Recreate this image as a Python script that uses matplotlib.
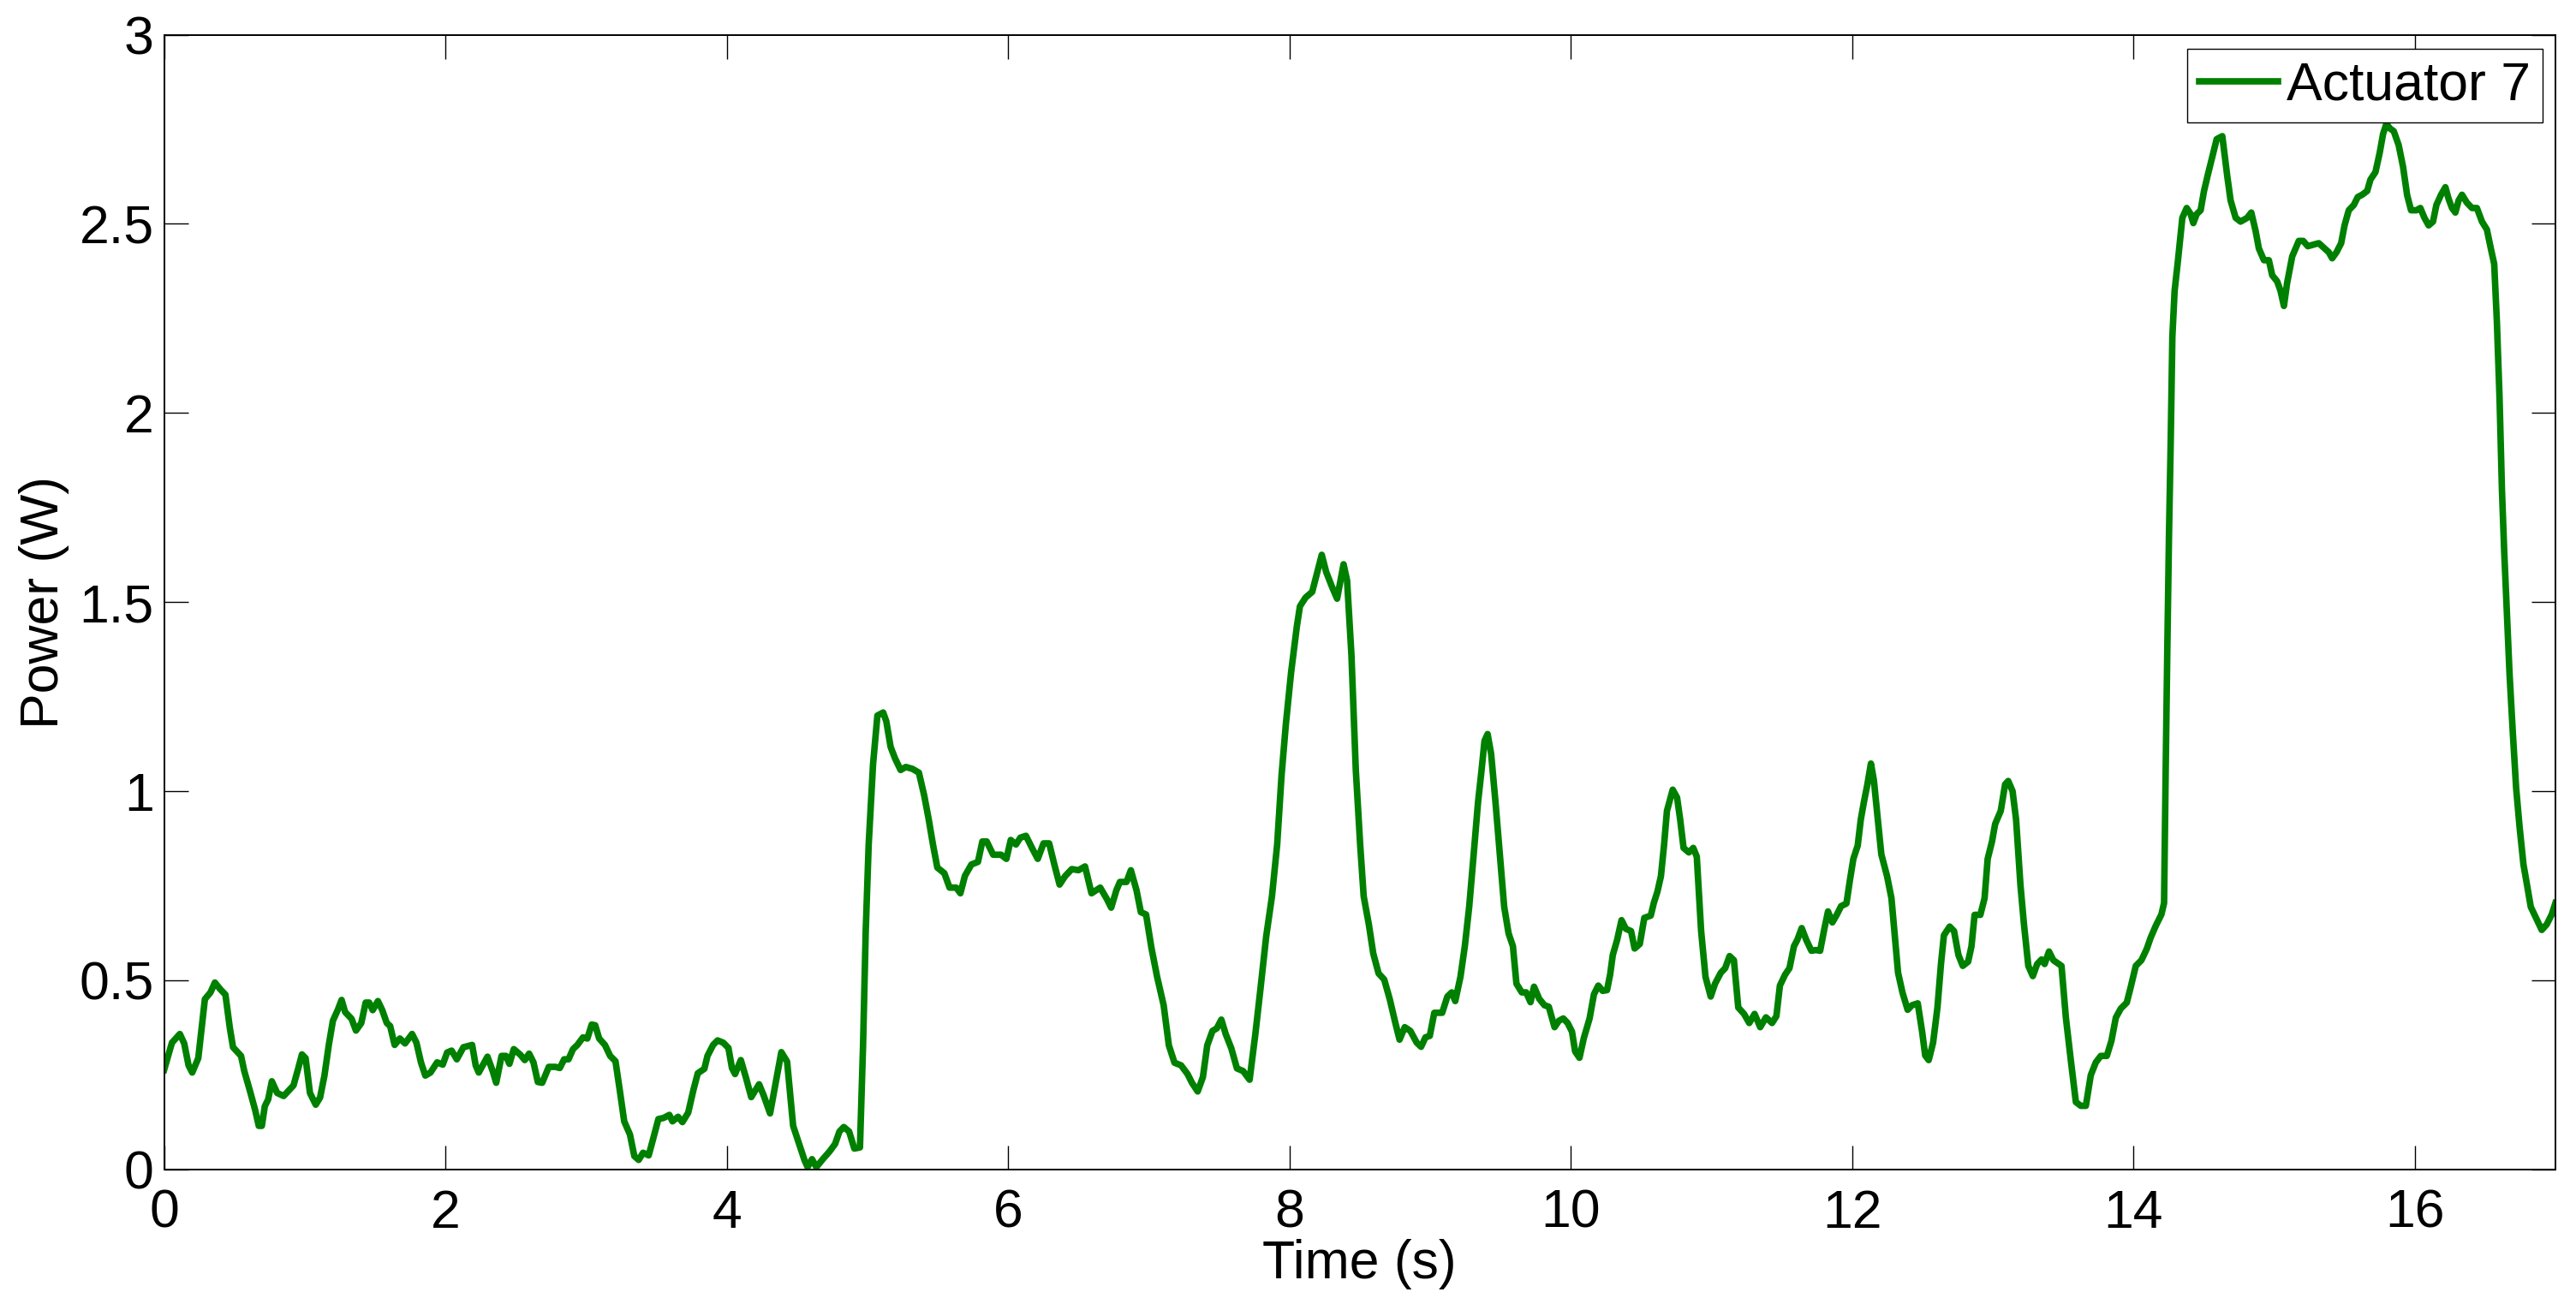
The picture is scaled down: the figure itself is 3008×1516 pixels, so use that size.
import numpy as np
import matplotlib
matplotlib.use("Agg")
import matplotlib.pyplot as plt
from matplotlib.ticker import FormatStrFormatter, MultipleLocator

# power trace of actuator 7
t = [0, 0.056, 0.112, 0.143, 0.174, 0.2, 0.243, 0.29, 0.33, 0.361, 0.4, 0.436, 0.467, 0.49,
     0.547, 0.57, 0.61, 0.648, 0.673, 0.695, 0.716, 0.74, 0.766, 0.804, 0.85, 0.89, 0.92,
     0.953, 0.98, 1.006, 1.037, 1.078, 1.109, 1.14, 1.171, 1.2, 1.234, 1.262, 1.287, 1.333,
     1.364, 1.402, 1.433, 1.458, 1.483, 1.52, 1.551, 1.583, 1.607, 1.639, 1.676, 1.713,
     1.763, 1.794, 1.826, 1.857, 1.894, 1.941, 1.981, 2.012, 2.044, 2.081, 2.128, 2.19,
     2.215, 2.237, 2.299, 2.336, 2.361, 2.399, 2.43, 2.455, 2.486, 2.533, 2.564, 2.595,
     2.626, 2.657, 2.688, 2.735, 2.782, 2.813, 2.844, 2.875, 2.907, 2.938, 2.978, 3.009,
     3.04, 3.065, 3.093, 3.134, 3.171, 3.209, 3.24, 3.271, 3.312, 3.343, 3.374, 3.405,
     3.445, 3.477, 3.514, 3.551, 3.592, 3.614, 3.654, 3.685, 3.726, 3.763, 3.794, 3.841,
     3.863, 3.903, 3.935, 3.975, 4.012, 4.037, 4.059, 4.1, 4.137, 4.174, 4.23, 4.262, 4.308,
     4.348, 4.388, 4.429, 4.472, 4.512, 4.553, 4.575, 4.606, 4.637, 4.683, 4.73, 4.77, 4.801,
     4.832, 4.87, 4.907, 4.947, 4.969, 4.988, 5.009, 5.04, 5.071, 5.112, 5.134, 5.165, 5.196,
     5.236, 5.273, 5.32, 5.366, 5.404, 5.435, 5.466, 5.497, 5.547, 5.584, 5.631, 5.661,
     5.693, 5.739, 5.786, 5.817, 5.848, 5.894, 5.95, 5.988, 6.019, 6.056, 6.087, 6.127,
     6.174, 6.211, 6.252, 6.292, 6.329, 6.366, 6.407, 6.453, 6.5, 6.547, 6.593, 6.655,
     6.702, 6.733, 6.77, 6.795, 6.842, 6.873, 6.913, 6.944, 6.981, 7.019, 7.059, 7.106,
     7.143, 7.183, 7.23, 7.276, 7.307, 7.348, 7.385, 7.416, 7.453, 7.484, 7.516, 7.547,
     7.587, 7.627, 7.671, 7.717, 7.758, 7.795, 7.835, 7.876, 7.913, 7.944, 7.975, 8.012,
     8.053, 8.075, 8.115, 8.162, 8.193, 8.23, 8.261, 8.301, 8.339, 8.385, 8.41, 8.441,
     8.472, 8.503, 8.528, 8.565, 8.596, 8.634, 8.674, 8.714, 8.752, 8.783, 8.82, 8.86,
     8.905, 8.936, 8.967, 8.998, 9.03, 9.086, 9.123, 9.154, 9.179, 9.216, 9.247, 9.278,
     9.31, 9.341, 9.365, 9.387, 9.409, 9.434, 9.465, 9.496, 9.527, 9.558, 9.589, 9.614,
     9.652, 9.683, 9.714, 9.739, 9.776, 9.813, 9.844, 9.885, 9.916, 9.947, 9.978, 10.009,
     10.031, 10.062, 10.093, 10.134, 10.165, 10.196, 10.227, 10.258, 10.28, 10.299, 10.33,
     10.361, 10.392, 10.429, 10.454, 10.491, 10.523, 10.569, 10.591, 10.616, 10.641, 10.663,
     10.684, 10.725, 10.756, 10.778, 10.802, 10.84, 10.871, 10.896, 10.927, 10.958, 10.995,
     11.026, 11.067, 11.098, 11.129, 11.16, 11.191, 11.232, 11.269, 11.307, 11.347, 11.388,
     11.431, 11.462, 11.487, 11.524, 11.555, 11.587, 11.611, 11.642, 11.674, 11.711, 11.742,
     11.773, 11.804, 11.829, 11.86, 11.891, 11.922, 11.96, 11.984, 12.009, 12.04, 12.062,
     12.084, 12.109, 12.134, 12.155, 12.177, 12.208, 12.249, 12.28, 12.302, 12.327, 12.358,
     12.395, 12.426, 12.467, 12.498, 12.52, 12.545, 12.576, 12.607, 12.632, 12.653, 12.694,
     12.725, 12.756, 12.787, 12.825, 12.849, 12.871, 12.912, 12.942, 12.964, 12.995, 13.017,
     13.057, 13.088, 13.11, 13.141, 13.166, 13.197, 13.222, 13.253, 13.285, 13.316, 13.347,
     13.369, 13.4, 13.431,
     13.489, 13.52, 13.555, 13.591, 13.626, 13.662, 13.697, 13.733, 13.768, 13.811, 13.844,
     13.875, 13.91, 13.953, 13.981, 14.017, 14.057, 14.095, 14.123, 14.159, 14.199, 14.218,
     14.23, 14.241, 14.253, 14.265, 14.277, 14.293, 14.317, 14.348, 14.379, 14.407, 14.426,
     14.45, 14.478, 14.502, 14.53, 14.561, 14.592, 14.632, 14.667, 14.691, 14.727, 14.762,
     14.809, 14.838, 14.869, 14.892, 14.928, 14.963, 14.987, 15.022, 15.046, 15.07, 15.093,
     15.129, 15.176, 15.207, 15.24, 15.278, 15.318, 15.359, 15.389, 15.413, 15.444, 15.477,
     15.501, 15.531, 15.567, 15.595, 15.626, 15.662, 15.685, 15.721, 15.751, 15.775, 15.799,
     15.822, 15.851, 15.886, 15.917, 15.946, 15.974, 16.012, 16.04, 16.069, 16.099, 16.13,
     16.154, 16.187, 16.218, 16.241, 16.265, 16.289, 16.312, 16.336, 16.371, 16.407, 16.442,
     16.478, 16.513, 16.541, 16.565, 16.584, 16.603, 16.62, 16.636, 16.655, 16.674, 16.698,
     16.721, 16.745, 16.773, 16.797, 16.825, 16.863, 16.903, 16.939, 16.974, 17.0]

power = [0.263, 0.335, 0.358, 0.333, 0.275, 0.256, 0.294, 0.45, 0.468, 0.494, 0.476, 0.462,
         0.375, 0.323, 0.3, 0.26, 0.208, 0.156, 0.115, 0.115, 0.167, 0.185, 0.233, 0.202,
         0.194, 0.21, 0.222, 0.266, 0.304, 0.294, 0.202, 0.171, 0.19, 0.248, 0.329, 0.393,
         0.421, 0.448, 0.416, 0.398, 0.367, 0.387, 0.441, 0.441, 0.421, 0.445, 0.421, 0.387,
         0.379, 0.329, 0.346, 0.333, 0.358, 0.335, 0.283, 0.248, 0.256, 0.283, 0.277, 0.309,
         0.314, 0.291, 0.323, 0.329, 0.275, 0.256, 0.298, 0.26, 0.229, 0.3, 0.3, 0.279, 0.318,
         0.303, 0.289, 0.306, 0.283, 0.231, 0.229, 0.271, 0.271, 0.268, 0.291, 0.291, 0.318,
         0.329, 0.349, 0.346, 0.383, 0.381, 0.346, 0.329, 0.3, 0.286, 0.208, 0.127, 0.092,
         0.035, 0.025, 0.044, 0.037, 0.081, 0.133, 0.136, 0.144, 0.127, 0.139, 0.125, 0.15,
         0.21, 0.254, 0.266, 0.3, 0.329, 0.341, 0.335, 0.321, 0.268, 0.252, 0.289, 0.242,
         0.191, 0.225, 0.196, 0.148,
         0.229, 0.31, 0.285, 0.115, 0.07, 0.024, 0.006, 0.027, 0.006, 0.027, 0.047, 0.067,
         0.1, 0.112, 0.1, 0.055, 0.058, 0.328, 0.631, 0.859, 1.071, 1.2, 1.208, 1.185, 1.117,
         1.087, 1.056, 1.064, 1.059, 1.049, 0.988, 0.927, 0.859, 0.798, 0.783, 0.745, 0.745,
         0.73, 0.776, 0.806, 0.813, 0.867, 0.867, 0.832, 0.832, 0.821, 0.871, 0.859, 0.877,
         0.882, 0.847, 0.821, 0.862, 0.862, 0.806, 0.753, 0.776, 0.794, 0.791, 0.801, 0.73,
         0.745, 0.715, 0.692, 0.738, 0.76, 0.76, 0.791, 0.738, 0.68, 0.674, 0.586, 0.51,
         0.434, 0.328, 0.282, 0.275, 0.252, 0.229, 0.206, 0.244, 0.328, 0.366, 0.373, 0.396,
         0.358, 0.32, 0.267, 0.26, 0.237, 0.358, 0.48, 0.616, 0.722, 0.859, 1.041, 1.178,
         1.314, 1.436, 1.489, 1.512, 1.527, 1.572, 1.625, 1.58, 1.542, 1.509, 1.6, 1.557,
         1.36, 1.056, 0.859, 0.722, 0.647, 0.571, 0.518, 0.502, 0.449, 0.389, 0.343, 0.376,
         0.366,
         0.335, 0.324, 0.349, 0.353, 0.414, 0.414, 0.457, 0.468, 0.445, 0.509, 0.59, 0.694,
         0.833, 0.971, 1.052, 1.133, 1.151, 1.099, 0.971, 0.833, 0.694, 0.624, 0.59, 0.491,
         0.468, 0.468, 0.442, 0.483, 0.451, 0.434, 0.43, 0.376, 0.393, 0.399, 0.387, 0.364,
         0.312, 0.295, 0.347, 0.399, 0.463, 0.486, 0.472, 0.474, 0.515, 0.567, 0.607, 0.659,
         0.636, 0.63, 0.584, 0.596, 0.665, 0.671, 0.705, 0.734, 0.775, 0.856, 0.948, 1.004,
         0.983, 0.925, 0.85, 0.838, 0.85, 0.827, 0.63, 0.509, 0.457, 0.491, 0.52, 0.532,
         0.564, 0.553, 0.428, 0.411, 0.387, 0.411, 0.376, 0.402, 0.387, 0.405, 0.486, 0.515,
         0.532, 0.59, 0.607, 0.638, 0.607, 0.578, 0.58, 0.578, 0.638, 0.682, 0.653, 0.673,
         0.696, 0.703, 0.763, 0.821, 0.856, 0.925, 0.971, 1.018, 1.073, 1.029, 0.948, 0.833,
         0.775, 0.717, 0.624, 0.52, 0.468, 0.422, 0.434, 0.439, 0.364, 0.301, 0.289, 0.335,
         0.428, 0.543, 0.619, 0.642, 0.63, 0.567, 0.538, 0.549, 0.59, 0.673, 0.673, 0.717,
         0.821, 0.867, 0.913, 0.948, 1.018, 1.027, 1.0, 0.925, 0.752, 0.648, 0.538, 0.511,
         0.543, 0.555, 0.543, 0.576, 0.553,
         0.538, 0.401, 0.289, 0.178, 0.168, 0.168, 0.249, 0.283, 0.3, 0.3, 0.34, 0.401, 0.425,
         0.441, 0.482, 0.538, 0.553, 0.583, 0.613, 0.644, 0.674, 0.704, 1.069, 1.372, 1.676,
         1.919, 2.202, 2.323, 2.404, 2.516, 2.542, 2.526, 2.502, 2.526, 2.536, 2.587, 2.631,
         2.678, 2.724, 2.732, 2.627, 2.562, 2.516, 2.506, 2.516, 2.53, 2.481, 2.435, 2.404,
         2.404, 2.364, 2.348, 2.323, 2.283, 2.344, 2.414, 2.455, 2.455, 2.441, 2.445, 2.449,
         2.435, 2.425, 2.409, 2.425, 2.449, 2.496, 2.536, 2.55, 2.571, 2.577, 2.587, 2.617,
         2.637, 2.688, 2.738, 2.765, 2.753, 2.745, 2.708, 2.651, 2.576, 2.536, 2.536, 2.542,
         2.516, 2.496, 2.506, 2.55, 2.577, 2.597, 2.566, 2.542, 2.53, 2.562, 2.577, 2.556,
         2.542, 2.542, 2.506, 2.485, 2.435, 2.394, 2.242, 2.04, 1.797, 1.635, 1.473, 1.311,
         1.15, 1.008, 0.907, 0.806, 0.755, 0.694, 0.664, 0.633, 0.648, 0.674, 0.704]

xticks = [0, 2, 4, 6, 8, 10, 12, 14, 16]
yticks = [0, 0.5, 1, 1.5, 2, 2.5, 3]

plt.rcParams['font.family'] = ['Liberation Sans', 'DejaVu Sans']
plt.rcParams['font.size'] = 45

fig = plt.figure(figsize=(30.08, 15.16), dpi=100)
ax = fig.add_axes([0.0637, 0.0991, 0.9283, 0.8741])

ax.plot(t, power, color=(0, 0.5, 0), lw=5.5, label='Actuator 7')

ax.set_xlim(0, 17)
ax.set_ylim(0, 3)
ax.set_xticks(xticks)
ax.set_yticks(yticks)
ax.yaxis.set_major_formatter(FormatStrFormatter('%g'))
ax.tick_params(direction='in', length=20, width=1.0, top=True, right=True,
               labelsize=45)
ax.tick_params(axis='x', pad=16)
ax.tick_params(axis='y', pad=8.5)
for s in ax.spines.values():
    s.set_linewidth(1.4)

ax.set_xlabel('Time (s)', fontsize=45)
ax.set_ylabel('Power (W)', fontsize=45)
ax.xaxis.set_label_coords(0.5, -0.0614)
ax.yaxis.set_label_coords(-0.0396, 0.5)

leg = ax.legend(loc='upper right', bbox_to_anchor=(0.9947, 0.9879), borderaxespad=0,
                fancybox=False, framealpha=1, edgecolor='black', fontsize=45,
                handlelength=1.48, handletextpad=0.16, borderpad=0.22)
leg.get_frame().set_linewidth(1.0)

fig.savefig('out.png', dpi=100)
